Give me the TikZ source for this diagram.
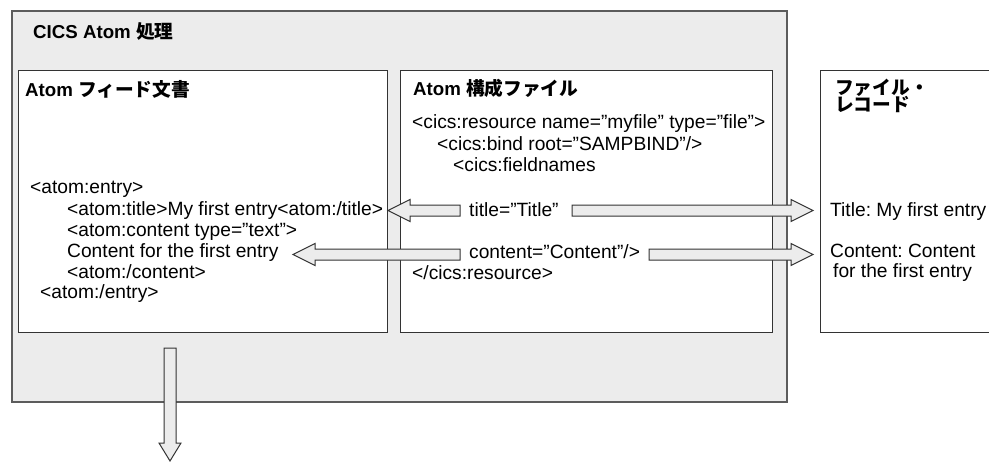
\documentclass[tikz,border=0pt]{standalone}
\usepackage{fontspec}
\setmainfont{Liberation Sans}
\newfontfamily\cjk{Noto Sans CJK JP}
\definecolor{panel}{HTML}{ECECEC}
\definecolor{edge}{HTML}{333333}
\newcommand{\dq}{\char34\relax}
\newcommand{\barrowR}[3]{% from x #1 to tip x #2 at y #3, pointing right
  \draw[barrow] (#1,#3-5.5) -- (#2-22,#3-5.5) -- (#2-22,#3-11) -- (#2,#3)
    -- (#2-22,#3+11) -- (#2-22,#3+5.5) -- (#1,#3+5.5) -- cycle;}
\newcommand{\barrowL}[3]{% from x #1 to tip x #2 at y #3, pointing left
  \draw[barrow] (#1,#3-5.5) -- (#2+22,#3-5.5) -- (#2+22,#3-11) -- (#2,#3)
    -- (#2+22,#3+11) -- (#2+22,#3+5.5) -- (#1,#3+5.5) -- cycle;}
\begin{document}
\begin{tikzpicture}[x=1pt,y=-1pt,
  txt/.style={anchor=base west, inner sep=0pt, font=\fontsize{19.2}{21}\selectfont\frenchspacing},
  ttl/.style={anchor=base west, inner sep=0pt, align=left, font=\fontsize{18.7}{17}\selectfont\bfseries},
  panelbox/.style={draw=edge, line width=1.3pt, fill=white, inner sep=0pt, anchor=north west},
  barrow/.style={draw=edge, line width=1pt, fill=panel, line join=miter}]
\useasboundingbox (0,0) rectangle (989,461);
\clip (0,0) rectangle (989,461);
% outer processing area
\node[panelbox, fill=panel, draw=edge!80, line width=1.5pt, minimum width=775pt, minimum height=391pt] (cics) at (11,10) {};
\node[ttl] (cicsT) at (33,38.5) {CICS Atom {\cjk 処理}};
% panels
\node[panelbox, minimum width=369pt, minimum height=262pt] (feed) at (18,70) {};
\node[panelbox, minimum width=372pt, minimum height=262pt] (conf) at (400,70) {};
\node[panelbox, minimum width=200pt, minimum height=262pt] (rec) at (820,70) {};
% titles
\node[ttl] (feedT) at (25,96) {Atom {\cjk フィード文書}};
\node[ttl] (confT) at (413,95) {Atom {\cjk 構成ファイル}};
\node[ttl] (recT1) at (835,94) {\cjk ファイル・};
\node[ttl] (recT2) at (835,111) {\cjk レコード};
% feed document text
\node[txt] (f1) at (30,193) {<atom:entry>};
\node[txt] (f2) at (67,215) {<atom:title>My first entry<atom:/title>};
\node[txt] (f3) at (67,236) {<atom:content type=\dq text\dq>};
\node[txt] (f4) at (67,257) {Content for the first entry};
\node[txt] (f5) at (67,278) {<atom:/content>};
\node[txt] (f6) at (40,298) {<atom:/entry>};
% configuration file text
\node[txt] (c1) at (412,128) {<cics:resource name=\dq myfile\dq{} type=\dq file\dq>};
\node[txt] (c2) at (437,150) {<cics:bind root=\dq SAMPBIND\dq/>};
\node[txt] (c3) at (453,171) {<cics:fieldnames};
\node[txt] (c4) at (469,216) {title=\dq Title\dq};
\node[txt] (c5) at (469,258) {content=\dq Content\dq/>};
\node[txt] (c6) at (412,279) {</cics:resource>};
% file record text
\node[txt] (r1) at (830,216) {Title: My first entry};
\node[txt] (r2) at (830,257) {Content: Content};
\node[txt] (r3) at (833,277) {for the first entry};
% block arrows
\barrowL{460}{388}{210.5}
\barrowR{572}{813}{210.5}
\barrowL{460}{293}{254.5}
\barrowR{649}{813}{254.5}
% down arrow
\draw[barrow] (164,348) -- (176,348) -- (176,443) -- (181,443) -- (170,461)
  -- (159,443) -- (164,443) -- cycle;
\end{tikzpicture}
\end{document}
